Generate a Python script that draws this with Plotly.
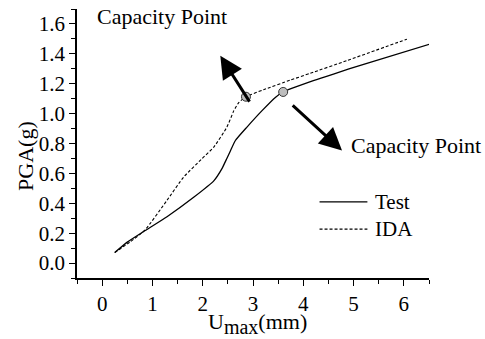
import plotly.graph_objects as go

# Test curve (solid)
test_u = [0.25, 0.5, 0.82, 1.29, 1.82, 2.22, 2.38, 2.48, 2.55, 2.65, 2.88, 3.18, 3.45, 3.6, 4.2, 4.6, 5.2, 6.52]
test_pga = [0.07, 0.14, 0.21, 0.31, 0.44, 0.55, 0.63, 0.70, 0.75, 0.82, 0.91, 1.02, 1.11, 1.145, 1.22, 1.265, 1.33, 1.465]

# IDA curve (dashed)
ida_u = [0.25, 0.55, 0.85, 1.29, 1.62, 1.99, 2.22, 2.48, 2.62, 2.72, 2.86, 3.21, 3.75, 4.14, 4.87, 6.06]
ida_pga = [0.07, 0.14, 0.22, 0.42, 0.575, 0.70, 0.776, 0.909, 1.02, 1.075, 1.113, 1.16, 1.225, 1.27, 1.355, 1.498]

# Capacity points: [IDA, Test]
cap_u = [2.86, 3.6]
cap_pga = [1.113, 1.145]

x_ticks = [0, 1, 2, 3, 4, 5, 6]
y_ticks = [0.0, 0.2, 0.4, 0.6, 0.8, 1.0, 1.2, 1.4, 1.6]

FONT = "Liberation Serif"

fig = go.Figure()
fig.add_trace(go.Scatter(x=test_u, y=test_pga, mode="lines", name="Test",
                         line=dict(color="black", width=1.3, shape="spline", smoothing=0.5)))
fig.add_trace(go.Scatter(x=ida_u, y=ida_pga, mode="lines", name="IDA",
                         line=dict(color="black", width=1.1, dash="3px,2px", shape="spline", smoothing=0.5)))
fig.add_trace(go.Scatter(x=cap_u, y=cap_pga, mode="markers",
                         marker=dict(size=9, color="#bdbdbd", line=dict(color="#333333", width=1))))

# arrows pointing to the capacity point labels
arrow = dict(showarrow=True, arrowhead=2, arrowsize=1.5, arrowwidth=3, arrowcolor="black",
             xref="x", yref="y", axref="x", ayref="y", text="")
fig.add_annotation(x=2.35, y=1.387, ax=2.95, ay=1.07, **arrow)
fig.add_annotation(x=4.77, y=0.753, ax=3.76, ay=1.065, **arrow)

label_font = dict(family=FONT, size=22, color="black")
fig.add_annotation(x=-0.14, y=1.653, xref="x", yref="y", text="Capacity Point", showarrow=False,
                   xanchor="left", yanchor="middle", font=label_font)
fig.add_annotation(x=4.9, y=0.787, xref="x", yref="y", text="Capacity Point", showarrow=False,
                   xanchor="left", yanchor="middle", font=label_font)

# legend
legend_items = [("Test", "solid", 0.283), ("IDA", "3px,2px", 0.182)]
for label, dash, ypos in legend_items:
    fig.add_shape(type="line", xref="paper", yref="paper", x0=0.689, x1=0.825, y0=ypos, y1=ypos,
                  line=dict(color="black", width=1.2, dash=dash))
    fig.add_annotation(x=0.842, y=ypos, xref="paper", yref="paper", text=label, showarrow=False,
                       xanchor="left", yanchor="middle", font=dict(family=FONT, size=21, color="black"))

# axis titles
fig.add_annotation(x=-0.148, y=0.4535, xref="paper", yref="paper", text="PGA(g)", textangle=-90,
                   showarrow=False, xanchor="center", yanchor="middle", font=label_font)
fig.add_annotation(x=0.514, y=-0.168, xref="paper", yref="paper",
                   text="U<sub><span style='font-size:20px'>max</span></sub>(mm)",
                   showarrow=False, xanchor="center", yanchor="middle", font=label_font)

axis_common = dict(showline=True, linecolor="black", linewidth=1.5, ticks="outside", ticklen=6,
                   tickwidth=1.3, tickcolor="black", showgrid=False, zeroline=False,
                   tickfont=dict(family=FONT, size=21, color="black"), mirror=False)
fig.update_xaxes(range=[-0.5, 6.5], tickvals=x_ticks, ticktext=[str(v) for v in x_ticks],
                 minor=dict(dtick=0.5, tick0=0, ticks="outside", ticklen=4, tickwidth=1.2, tickcolor="black"),
                 **axis_common)
fig.update_yaxes(range=[-0.1, 1.7], tickvals=y_ticks, ticktext=[f"{v:.1f}" for v in y_ticks],
                 minor=dict(dtick=0.1, tick0=0, ticks="outside", ticklen=4, tickwidth=1.2, tickcolor="black"),
                 **axis_common)

fig.update_layout(width=485, height=339, margin=dict(l=77, r=56, t=9, b=61),
                  font=dict(family=FONT, color="black"),
                  plot_bgcolor="white", paper_bgcolor="white", showlegend=False)

fig.write_html("out.html")
